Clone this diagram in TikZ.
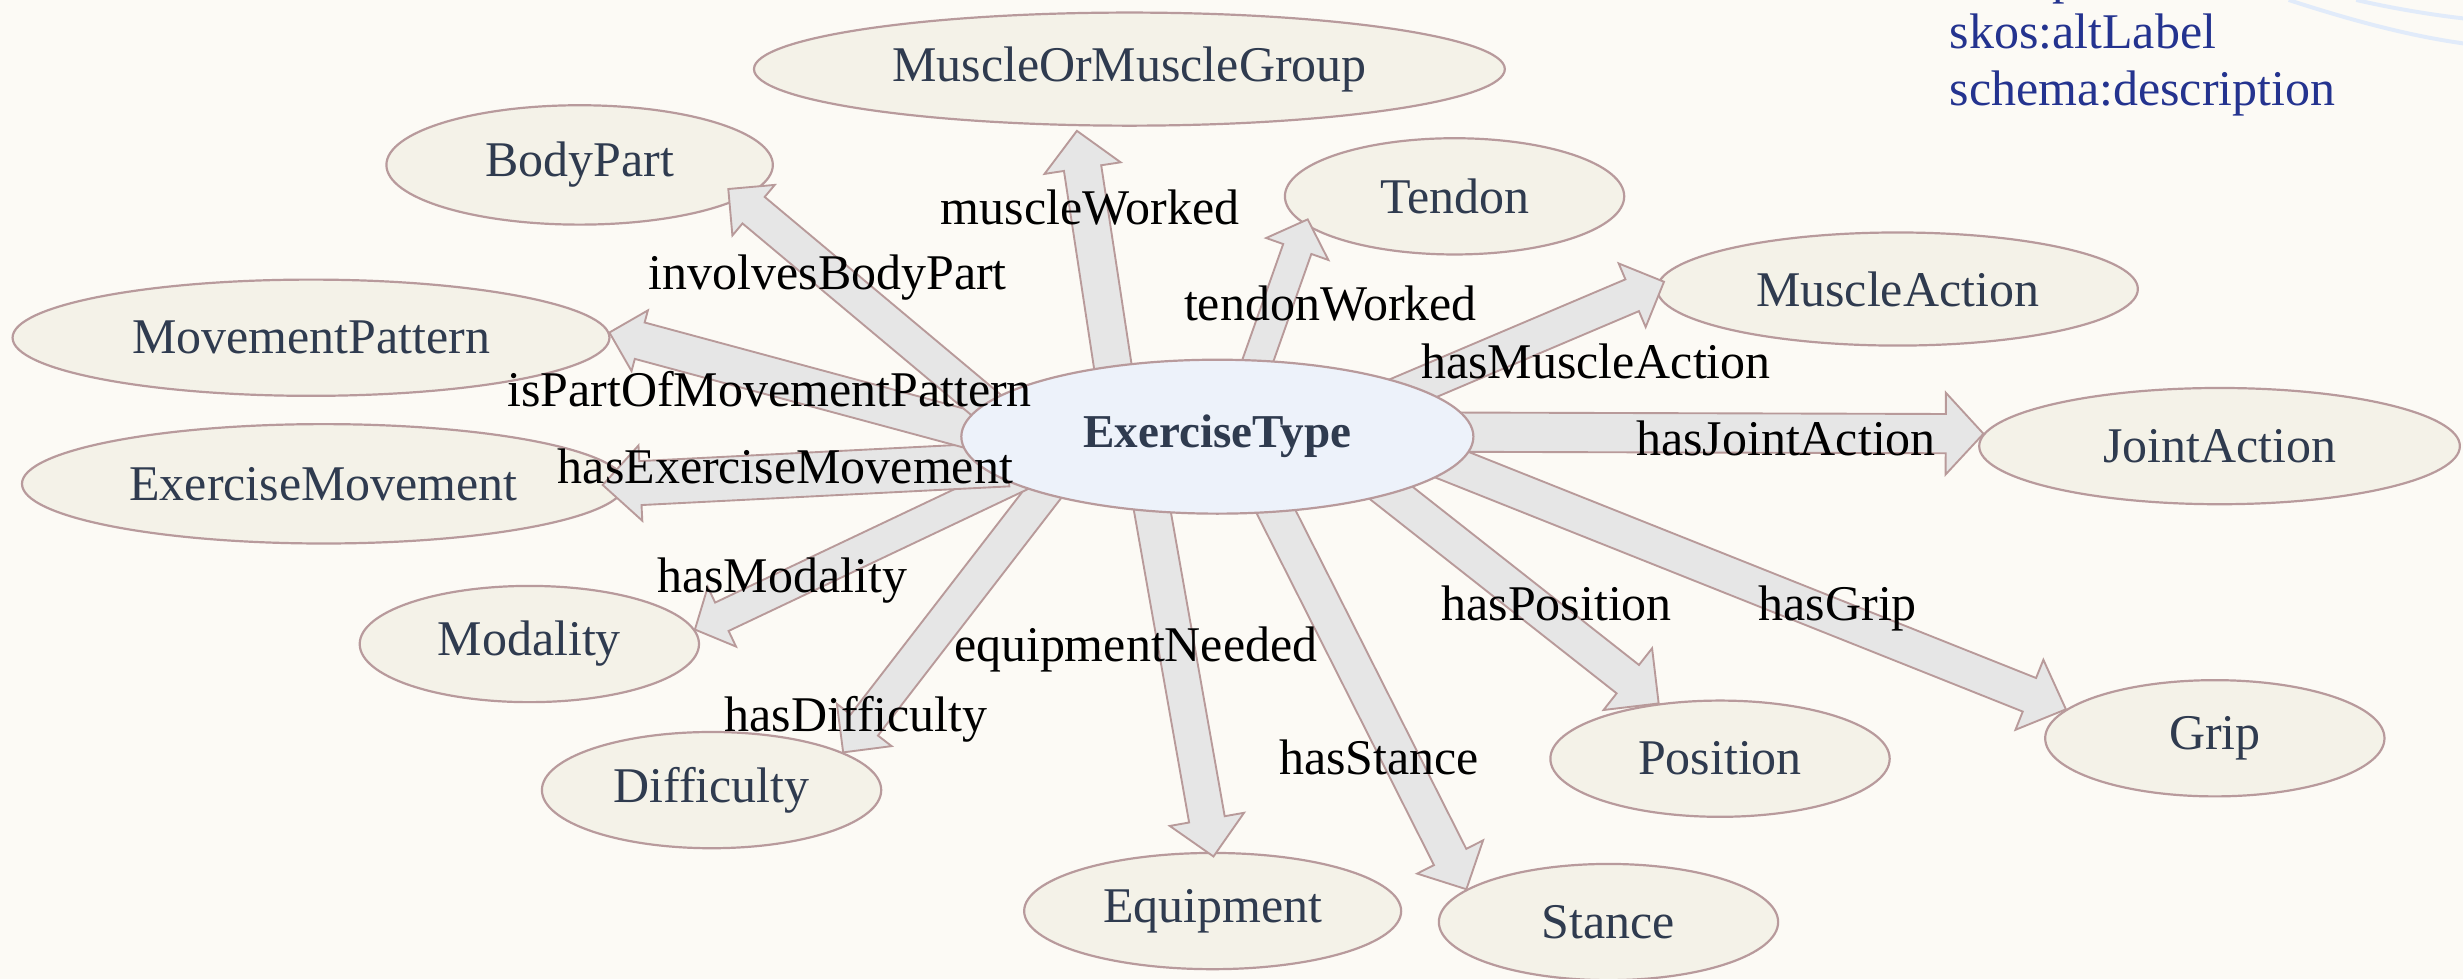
\documentclass[tikz,border=0pt]{standalone}
\usepackage{fontspec}
\setmainfont{Liberation Serif}
\usetikzlibrary{shapes.geometric,calc}

\definecolor{paper}{HTML}{FCFAF5}
\definecolor{nodefill}{HTML}{F4F2E8}
\definecolor{nodeline}{HTML}{B89A9C}
\definecolor{hubfill}{HTML}{EDF2FA}
\definecolor{nodetext}{HTML}{2F3B4F}
\definecolor{arrowfill}{HTML}{E6E6E6}
\definecolor{arrowline}{HTML}{B89A9A}
\definecolor{notetext}{HTML}{24338F}
\definecolor{ringline}{HTML}{E1EBFA}

\tikzset{
  cls/.style={ellipse, draw=nodeline, fill=nodefill, line width=1.4pt, inner sep=0pt,
    text=nodetext, font=\fontsize{31.8}{36}\selectfont},
  hub/.style={cls, fill=hubfill, font=\fontsize{30}{36}\selectfont\bfseries},
  hubshape/.style={ellipse, inner sep=0pt, minimum width=326pt, minimum height=98pt},
  arrowbody/.style={fill=arrowfill, draw=arrowline, line width=1.2pt, line join=miter},
  edgelabel/.style={anchor=base, inner sep=0pt, text=black, font=\fontsize{31.8}{36}\selectfont},
  note/.style={anchor=base west, inner sep=0pt, text=notetext, font=\fontsize{31.8}{36}\selectfont},
  ring/.style={draw=ringline, line width=2.5pt},
}

% Block arrow from a source anchor to a target anchor.
% #1 source, #2 target, #3 half shaft width, #4 half head width,
% #5 head length, #6 pull-back of the tip (negative: push into target)
\newcommand\blockarrow[6]{%
  \coordinate (ba-s) at ($(#1)!-18pt!(#2)$);
  \coordinate (ba-t) at ($(#2)!#6!(#1)$);
  \coordinate (ba-h) at ($(ba-t)!#5!(ba-s)$);
  \draw[arrowbody]
    ($(ba-s)!#3!90:(ba-t)$) -- ($(ba-h)!#3!90:(ba-t)$) -- ($(ba-h)!#4!90:(ba-t)$)
    -- (ba-t)
    -- ($(ba-h)!#4!-90:(ba-t)$) -- ($(ba-h)!#3!-90:(ba-t)$) -- ($(ba-s)!#3!-90:(ba-t)$)
    -- cycle;
}

\begin{document}
\begin{tikzpicture}[x=1pt, y=-1pt]
  \useasboundingbox (0,0) rectangle (1568,623);
  \clip (0,0) rectangle (1568,623);
  \fill[paper] (0,0) rectangle (1568,623);

  % decorative rings in the corner
  \draw[ring] (1457,0) .. controls (1488,10) and (1528,22) .. (1568,27.6);
  \draw[ring] (1500,0) .. controls (1522,5) and (1545,9) .. (1568,11.7);

  % property list
  \node[note] (n0) at (1241,-4) {skos:prefLabel};
  \node[note] (n1) at (1241,31) {skos:altLabel};
  \node[note] (n2) at (1241,67) {schema:description};

  % related classes
  \node[cls, minimum width=478pt, minimum height=72pt] (mog) at (719,44)  {MuscleOrMuscleGroup};
  \node[cls, minimum width=246pt, minimum height=76pt] (bp)  at (369,105) {BodyPart};
  \node[cls, minimum width=216pt, minimum height=74pt] (ten) at (926,125) {Tendon};
  \node[cls, minimum width=380pt, minimum height=74pt] (mp)  at (198,215) {MovementPattern};
  \node[cls, minimum width=306pt, minimum height=72pt] (ma)  at (1208,184) {MuscleAction};
  \node[cls, minimum width=306pt, minimum height=74pt] (ja)  at (1413,284) {JointAction};
  \node[cls, minimum width=384pt, minimum height=76pt] (em)  at (206,308) {ExerciseMovement};
  \node[cls, minimum width=216pt, minimum height=74pt] (mod) at (337,410) {Modality};
  \node[cls, minimum width=216pt, minimum height=74pt] (dif) at (453,503) {Difficulty};
  \node[cls, minimum width=216pt, minimum height=74pt] (pos) at (1095,483) {Position};
  \node[cls, minimum width=216pt, minimum height=74pt] (gr)  at (1410,470) {Grip};
  \node[cls, minimum width=240pt, minimum height=74pt] (eq)  at (772,580) {Equipment};
  \node[cls, minimum width=216pt, minimum height=74pt] (st)  at (1024,587) {Stance};

  % outline of the hub, so the arrows can start on its border
  \path node[hubshape] (et) at (775,278) {};

  % properties of ExerciseType
  \blockarrow{et.146}{mog.227}{12pt}{24.5pt}{24pt}{3pt}
  \blockarrow{et.62}{ten.191}{9.5pt}{21pt}{20pt}{-4pt}
  \blockarrow{et.14}{ma.179}{11pt}{22pt}{22pt}{-5pt}
  \blockarrow{et.1}{ja.177}{12.5pt}{26pt}{24pt}{0pt}
  \blockarrow{et.353}{gr.169}{11.5pt}{24pt}{25pt}{0pt}
  \blockarrow{et.342}{pos.138}{11.5pt}{25pt}{25pt}{0pt}
  \blockarrow{et.308}{st.167}{11.5pt}{23.5pt}{23pt}{0pt}
  \blockarrow{et.229}{eq.90}{11.5pt}{24pt}{24pt}{-3pt}
  \blockarrow{et.198}{dif.16}{11pt}{22pt}{22pt}{0pt}
  \blockarrow{et.192}{mod.5}{10pt}{21pt}{19pt}{0pt}
  \blockarrow{et.187}{em.0}{14pt}{24pt}{24pt}{-15pt}
  \blockarrow{et.178}{mp.1}{12pt}{20pt}{20pt}{0pt}
  \blockarrow{et.172}{bp.348}{11pt}{21pt}{21pt}{-10pt}

  % the hub itself, painted over the arrow roots
  \node[hub, minimum width=326pt, minimum height=98pt] (hub) at (et.center) {ExerciseType};

  % property names
  \node[edgelabel] (l1)  at (694,143)  {muscleWorked};
  \node[edgelabel] (l2)  at (527,184)  {involvesBodyPart};
  \node[edgelabel] (l3)  at (847,204)  {tendonWorked};
  \node[edgelabel] (l4)  at (1016,241) {hasMuscleAction};
  \node[edgelabel] (l5)  at (490,259)  {isPartOfMovementPattern};
  \node[edgelabel] (l6)  at (1137,290) {hasJointAction};
  \node[edgelabel] (l7)  at (500,308)  {hasExerciseMovement};
  \node[edgelabel] (l8)  at (498,377)  {hasModality};
  \node[edgelabel] (l9)  at (991,395)  {hasPosition};
  \node[edgelabel] (l10) at (1170,395) {hasGrip};
  \node[edgelabel] (l11) at (723,421)  {equipmentNeeded};
  \node[edgelabel] (l12) at (545,466)  {hasDifficulty};
  \node[edgelabel] (l13) at (878,493)  {hasStance};
\end{tikzpicture}
\end{document}
